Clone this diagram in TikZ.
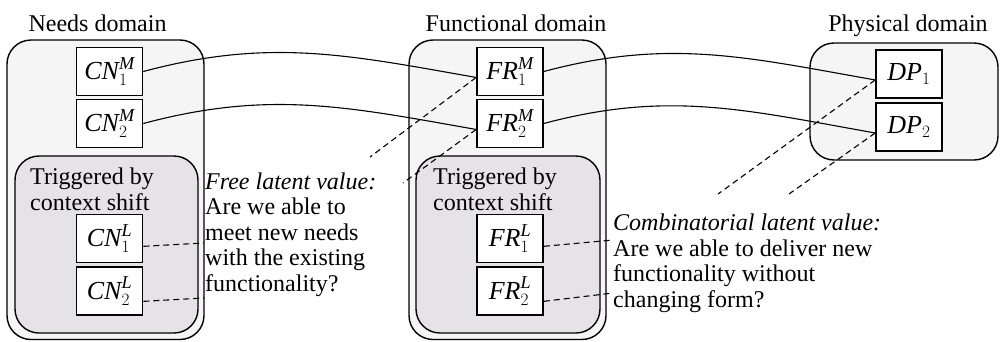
\documentclass[tikz,border=0pt]{standalone}
\usepackage{fontspec}
\setmainfont{Liberation Serif}
\usetikzlibrary{arrows.meta}
\definecolor{outerfill}{RGB}{245,245,245}
\definecolor{innerfill}{RGB}{229,227,229}
\tikzset{>=stealth}
\tikzset{%
	item/.style={draw,line width=1.6pt,fill=white,minimum width=66pt,minimum height=48pt,inner sep=0pt,font=\fontsize{26pt}{28pt}\selectfont},
	domainbox/.style={draw,line width=1.4pt,fill=outerfill,rounded corners=24pt},
	shiftbox/.style={draw,line width=1.4pt,fill=innerfill,rounded corners=24pt},
	link/.style={line width=1.1pt},
	latent/.style={line width=1.1pt,dash pattern=on 6pt off 4pt},
	note/.style={align=left,anchor=base west,inner sep=0pt}
}

\begin{document}
\begin{tikzpicture}[x=1pt,y=-1pt,every node/.style={font=\fontsize{24pt}{25.5pt}\selectfont}]
	\useasboundingbox (0,0) rectangle (1000,341);

	\draw[domainbox] (7,40) rectangle (204,339.5);
	\draw[shiftbox] (15,156) rectangle (198,333);
	\draw[domainbox] (409,40) rectangle (606,339.5);
	\draw[shiftbox] (416,156) rectangle (600,333);
	\draw[domainbox] (810,43) rectangle (998,160);

	\node[anchor=base west] (needs) at (25,31) {Needs domain};
	\node[anchor=base] (functional) at (516,31) {Functional domain};
	\node[anchor=base] (physical) at (908,31) {Physical domain};

	\node[note] (trigN) at (30,210) {Triggered by\\context shift};
	\node[note] (trigF) at (433,210) {Triggered by\\context shift};

	\node[item] (CN1M) at (109.5,71.5) {$\mathit{CN}_1^{\mathit{M}}$};
	\node[item] (CN2M) at (109.5,123.5) {$\mathit{CN}_2^{\mathit{M}}$};
	\node[item] (CN1L) at (109.5,238.5) {$\mathit{CN}_1^{\mathit{L}}$};
	\node[item] (CN2L) at (109.5,291) {$\mathit{CN}_2^{\mathit{L}}$};

	\node[item] (FR1M) at (510,71.5) {$\mathit{FR}_1^{\mathit{M}}$};
	\node[item] (FR2M) at (510,123.5) {$\mathit{FR}_2^{\mathit{M}}$};
	\node[item] (FR1L) at (510,238.5) {$\mathit{FR}_1^{\mathit{L}}$};
	\node[item] (FR2L) at (510,291) {$\mathit{FR}_2^{\mathit{L}}$};

	\node[item] (DP1) at (909,74) {$\mathit{DP}_1$};
	\node[item] (DP2) at (909,127) {$\mathit{DP}_2$};

	\node[note] (free) at (205,291) {\textit{Free latent value:}\\Are we able to\\meet new needs\\with the existing\\functionality?};
	\node[note] (comb) at (613,307) {\textit{Combinatorial latent value:}\\Are we able to deliver new\\functionality without\\changing form?};

	\coordinate (f1) at (370,157);
	\coordinate (f2) at (403,183);
	\coordinate (f3) at (204,243);
	\coordinate (f4) at (204,298);
	\coordinate (c1) at (613,240);
	\coordinate (c2) at (613,293);
	\coordinate (c3) at (718,194);
	\coordinate (c4) at (789,194);

	\draw[link] (CN1M.east) to[out=15,in=170] (FR1M.190);
	\draw[link] (CN2M.east) to[out=15,in=170] (FR2M.190);
	\draw[link] (FR1M.east) to[out=15,in=170] (DP1.190);
	\draw[link] (FR2M.east) to[out=15,in=170] (DP2.190);

	\draw[latent] (FR1M.190) -- (f1);
	\draw[latent] (FR2M.190) -- (f2);
	\draw[latent] (CN1L.347) -- (f3);
	\draw[latent] (CN2L.343) -- (f4);
	\draw[latent] (FR1L.347) -- (c1);
	\draw[latent] (FR2L.343) -- (c2);
	\draw[latent] (DP1.190) -- (c3);
	\draw[latent] (DP2.190) -- (c4);
\end{tikzpicture}
\end{document}
